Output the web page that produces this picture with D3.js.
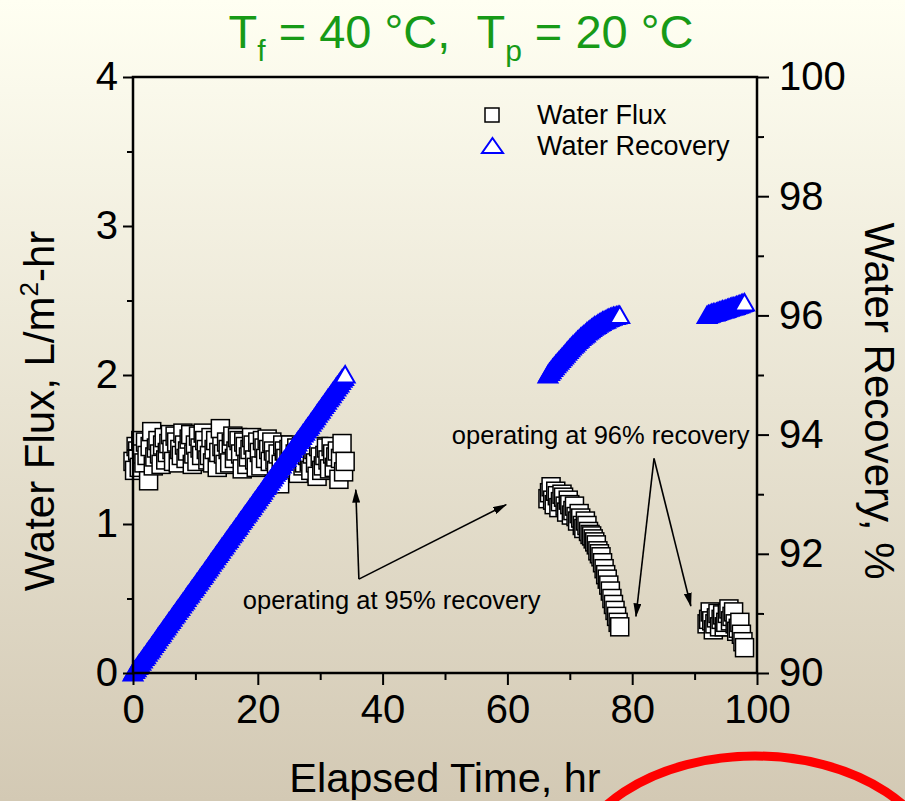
<!DOCTYPE html>
<html>
<head>
<meta charset="utf-8">
<script src="https://cdn.jsdelivr.net/npm/d3@7"></script>
<style>
  html, body { margin: 0; padding: 0; overflow: hidden; }
  #chart text { font-family: "Liberation Sans", Arial, sans-serif; }
</style>
</head>
<body>
<div id="chart"></div>
<script>
// ---- data ----
// run 1 : operating at 95% recovery
const seg1Time = [0, 0.25, 0.5, 0.75, 1, 1.25, 1.5, 1.75, 2, 2.25,
  2.5, 2.75, 3, 3.25, 3.5, 3.75, 4, 4.25, 4.5, 4.75,
  5, 5.25, 5.5, 5.75, 6, 6.25, 6.5, 6.75, 7, 7.25,
  7.5, 7.75, 8, 8.25, 8.5, 8.75, 9, 9.25, 9.5, 9.75,
  10, 10.25, 10.5, 10.75, 11, 11.25, 11.5, 11.75, 12, 12.25,
  12.5, 12.75, 13, 13.25, 13.5, 13.75, 14, 14.25, 14.5, 14.75,
  15, 15.25, 15.5, 15.75, 16, 16.25, 16.5, 16.75, 17, 17.25,
  17.5, 17.75, 18, 18.25, 18.5, 18.75, 19, 19.25, 19.5, 19.75,
  20, 20.25, 20.5, 20.75, 21, 21.25, 21.5, 21.75, 22, 22.25,
  22.5, 22.75, 23, 23.25, 23.5, 23.75, 24, 24.25, 24.5, 24.75,
  25, 25.25, 25.5, 25.75, 26, 26.25, 26.5, 26.75, 27, 27.25,
  27.5, 27.75, 28, 28.25, 28.5, 28.75, 29, 29.25, 29.5, 29.75,
  30, 30.25, 30.5, 30.75, 31, 31.25, 31.5, 31.75, 32, 32.25,
  32.5, 32.75, 33, 33.25, 33.5, 33.75, 34];
const seg1Flux = [1.42, 1.36, 1.52, 1.49, 1.38, 1.56, 1.47, 1.41, 1.55, 1.46,
  1.29, 1.52, 1.62, 1.39, 1.45, 1.51, 1.56, 1.47, 1.40, 1.53,
  1.58, 1.43, 1.48, 1.54, 1.60, 1.50, 1.42, 1.59, 1.55, 1.41,
  1.50, 1.46, 1.61, 1.53, 1.44, 1.49, 1.57, 1.60, 1.40, 1.47,
  1.53, 1.42, 1.59, 1.51, 1.46, 1.61, 1.56, 1.50, 1.43, 1.46,
  1.58, 1.41, 1.50, 1.56, 1.38, 1.48, 1.64, 1.52, 1.47, 1.40,
  1.55, 1.50, 1.41, 1.54, 1.59, 1.44, 1.49, 1.58, 1.56, 1.47,
  1.37, 1.55, 1.52, 1.40, 1.45, 1.50, 1.58, 1.53, 1.43, 1.38,
  1.55, 1.48, 1.39, 1.56, 1.51, 1.44, 1.57, 1.50, 1.42, 1.55,
  1.49, 1.43, 1.36, 1.47, 1.27, 1.40, 1.53, 1.49, 1.44, 1.37,
  1.50, 1.53, 1.38, 1.43, 1.47, 1.51, 1.34, 1.45, 1.52, 1.39,
  1.41, 1.50, 1.46, 1.42, 1.36, 1.47, 1.50, 1.41, 1.32, 1.52,
  1.45, 1.36, 1.39, 1.46, 1.51, 1.43, 1.37, 1.52, 1.47, 1.38,
  1.45, 1.49, 1.30, 1.44, 1.54, 1.35, 1.42];
const seg1Rec = [90.00, 90.04, 90.07, 90.11, 90.15, 90.18, 90.22, 90.26, 90.29, 90.33,
  90.37, 90.40, 90.44, 90.48, 90.51, 90.55, 90.59, 90.63, 90.66, 90.70,
  90.74, 90.77, 90.81, 90.85, 90.88, 90.92, 90.96, 90.99, 91.03, 91.07,
  91.10, 91.14, 91.18, 91.21, 91.25, 91.29, 91.32, 91.36, 91.40, 91.43,
  91.47, 91.51, 91.54, 91.58, 91.62, 91.65, 91.69, 91.73, 91.76, 91.80,
  91.84, 91.88, 91.91, 91.95, 91.99, 92.02, 92.06, 92.10, 92.13, 92.17,
  92.21, 92.24, 92.28, 92.32, 92.35, 92.39, 92.43, 92.46, 92.50, 92.54,
  92.57, 92.61, 92.65, 92.68, 92.72, 92.76, 92.79, 92.83, 92.87, 92.90,
  92.94, 92.98, 93.01, 93.05, 93.09, 93.13, 93.16, 93.20, 93.24, 93.27,
  93.31, 93.35, 93.38, 93.42, 93.46, 93.49, 93.53, 93.57, 93.60, 93.64,
  93.68, 93.71, 93.75, 93.79, 93.82, 93.86, 93.90, 93.93, 93.97, 94.01,
  94.04, 94.08, 94.12, 94.15, 94.19, 94.23, 94.26, 94.30, 94.34, 94.38,
  94.41, 94.45, 94.49, 94.52, 94.56, 94.60, 94.63, 94.67, 94.71, 94.74,
  94.78, 94.82, 94.85, 94.89, 94.93, 94.96, 95.00];

// run 2 : operating at 96% recovery
const seg2Time = [66.5, 66.75, 67, 67.25, 67.5, 67.75, 68, 68.25, 68.5, 68.75,
  69, 69.25, 69.5, 69.75, 70, 70.25, 70.5, 70.75, 71, 71.25,
  71.5, 71.75, 72, 72.25, 72.5, 72.75, 73, 73.25, 73.5, 73.75,
  74, 74.25, 74.5, 74.75, 75, 75.25, 75.5, 75.75, 76, 76.25,
  76.5, 76.75, 77, 77.25, 77.5, 77.75, 78];
const seg2Flux = [1.17, 1.21, 1.25, 1.16, 1.13, 1.22, 1.19, 1.11, 1.15, 1.20,
  1.18, 1.12, 1.08, 1.16, 1.13, 1.06, 1.09, 1.12, 1.05, 1.02,
  1.07, 1.04, 0.99, 0.97, 1.02, 0.99, 0.95, 0.93, 0.92, 0.90,
  0.88, 0.86, 0.82, 0.80, 0.78, 0.74, 0.70, 0.66, 0.63, 0.59,
  0.55, 0.50, 0.46, 0.42, 0.38, 0.34, 0.31];
const seg2Rec = [95.00, 95.04, 95.07, 95.11, 95.14, 95.17, 95.20, 95.23, 95.26, 95.29,
  95.32, 95.35, 95.38, 95.41, 95.44, 95.47, 95.50, 95.52, 95.55, 95.58,
  95.60, 95.63, 95.65, 95.67, 95.69, 95.72, 95.74, 95.76, 95.78, 95.80,
  95.82, 95.83, 95.85, 95.87, 95.88, 95.90, 95.91, 95.92, 95.94, 95.95,
  95.96, 95.97, 95.98, 95.98, 95.99, 96.00, 96.00];

// run 3 : operating at 96% recovery
const seg3Time = [92, 92.25, 92.5, 92.75, 93, 93.25, 93.5, 93.75, 94, 94.25,
  94.5, 94.75, 95, 95.25, 95.5, 95.75, 96, 96.25, 96.5, 96.75,
  97, 97.25, 97.5, 97.75, 98];
const seg3Flux = [0.33, 0.36, 0.41, 0.35, 0.29, 0.33, 0.37, 0.40, 0.31, 0.36,
  0.39, 0.31, 0.34, 0.40, 0.43, 0.35, 0.38, 0.41, 0.33, 0.28,
  0.30, 0.34, 0.26, 0.21, 0.17];
const seg3Rec = [96.00, 96.01, 96.02, 96.03, 96.04, 96.04, 96.05, 96.06, 96.07, 96.08,
  96.09, 96.09, 96.10, 96.11, 96.12, 96.13, 96.14, 96.14, 96.15, 96.16,
  96.17, 96.18, 96.19, 96.20, 96.21];

const xTicks = [0, 20, 40, 60, 80, 100];
const xMinor = [10, 30, 50, 70, 90];
const fluxTicks = [0, 1, 2, 3, 4];
const fluxMinor = [0.5, 1.5, 2.5, 3.5];
const recTicks = [90, 92, 94, 96, 98, 100];
const recMinor = [91, 93, 95, 97, 99];

const segments = [
  { time: seg1Time, flux: seg1Flux, rec: seg1Rec },
  { time: seg2Time, flux: seg2Flux, rec: seg2Rec },
  { time: seg3Time, flux: seg3Flux, rec: seg3Rec }
];

// ---- layout ----
const W = 905, H = 801;
const plot = { left: 133, right: 757, top: 77, bottom: 673 };
const FONT = "'Liberation Sans', Arial, sans-serif";

const svg = d3.select("#chart").append("svg")
  .attr("width", W)
  .attr("height", H);

const defs = svg.append("defs");
const grad = defs.append("linearGradient")
  .attr("id", "bg").attr("x1", 0).attr("y1", 0).attr("x2", 0).attr("y2", 1);
grad.append("stop").attr("offset", "0%").attr("stop-color", "#FFFFF2");
grad.append("stop").attr("offset", "100%").attr("stop-color", "#D3C9B4");

defs.append("marker")
  .attr("id", "arrow")
  .attr("viewBox", "0 0 14 8")
  .attr("refX", 13).attr("refY", 4)
  .attr("markerWidth", 14).attr("markerHeight", 8)
  .attr("markerUnits", "userSpaceOnUse")
  .attr("orient", "auto")
  .append("path")
  .attr("d", "M0,0 L14,4 L0,8 Z")
  .attr("fill", "#000");

svg.append("rect").attr("width", W).attr("height", H).attr("fill", "url(#bg)");

// scales
const x = d3.scaleLinear().domain([0, 100]).range([plot.left, plot.right]);
const yFlux = d3.scaleLinear().domain([0, 4]).range([plot.bottom, plot.top]);
const yRec = d3.scaleLinear().domain([90, 100]).range([plot.bottom, plot.top]);

// Water Flux squares
segments.forEach(seg => {
  svg.append("g").selectAll("rect")
    .data(seg.time.map((t, i) => ({ t, v: seg.flux[i] })))
    .enter().append("rect")
    .attr("x", d => x(d.t) - 9)
    .attr("y", d => yFlux(d.v) - 9)
    .attr("width", 18).attr("height", 18)
    .attr("fill", "#fff")
    .attr("stroke", "#000")
    .attr("stroke-width", 1.5);
});

// Water Recovery triangles (dense points merge into a solid band)
const triPath = "M0,-9 L9.5,7.5 L-9.5,7.5 Z";
segments.forEach(seg => {
  const n = seg.time.length;
  svg.append("g").selectAll("path")
    .data(seg.time.map((t, i) => ({ t, v: seg.rec[i], last: i === n - 1 })))
    .enter().append("path")
    .attr("d", triPath)
    .attr("transform", d => `translate(${x(d.t)},${yRec(d.v)})`)
    .attr("fill", d => d.last ? "#fff" : "#0000ff")
    .attr("stroke", "#0000ff")
    .attr("stroke-width", 2);
});

// axes
function styleAxis(g) {
  g.attr("font-family", FONT).attr("font-size", 40);
  g.selectAll("text").attr("fill", "#000");
  g.selectAll("line").attr("stroke", "#000").attr("stroke-width", 2);
  g.select(".domain").remove();
}

svg.append("g")
  .attr("transform", `translate(0,${plot.bottom})`)
  .call(d3.axisBottom(x).tickValues(xTicks).tickSize(12).tickPadding(10))
  .call(styleAxis);
svg.append("g")
  .attr("transform", `translate(0,${plot.bottom})`)
  .call(d3.axisBottom(x).tickValues(xMinor).tickSize(7).tickFormat(""))
  .call(styleAxis);

svg.append("g")
  .attr("transform", `translate(${plot.left},0)`)
  .call(d3.axisLeft(yFlux).tickValues(fluxTicks).tickSize(10).tickPadding(5).tickFormat(d3.format("d")))
  .call(styleAxis);
svg.append("g")
  .attr("transform", `translate(${plot.left},0)`)
  .call(d3.axisLeft(yFlux).tickValues(fluxMinor).tickSize(6).tickFormat(""))
  .call(styleAxis);

svg.append("g")
  .attr("transform", `translate(${plot.right},0)`)
  .call(d3.axisRight(yRec).tickValues(recTicks).tickSize(12).tickPadding(10).tickFormat(d3.format("d")))
  .call(styleAxis);
svg.append("g")
  .attr("transform", `translate(${plot.right},0)`)
  .call(d3.axisRight(yRec).tickValues(recMinor).tickSize(7).tickFormat(""))
  .call(styleAxis);

// frame
svg.append("rect")
  .attr("x", plot.left).attr("y", plot.top)
  .attr("width", plot.right - plot.left)
  .attr("height", plot.bottom - plot.top)
  .attr("fill", "none")
  .attr("stroke", "#000")
  .attr("stroke-width", 2.5);

// title
const title = svg.append("text")
  .attr("x", 461).attr("y", 48)
  .attr("text-anchor", "middle")
  .attr("font-family", FONT)
  .attr("font-size", 47)
  .attr("fill", "#179A17");
title.append("tspan").text("T");
title.append("tspan").attr("dy", 13).attr("font-size", 30).text("f");
title.append("tspan").attr("dy", -13).text("\u00A0= 40 \u00B0C,\u00A0\u00A0T");
title.append("tspan").attr("dy", 13).attr("font-size", 30).text("p");
title.append("tspan").attr("dy", -13).text("\u00A0= 20 \u00B0C");

// axis titles
const yTitle = svg.append("text")
  .attr("transform", "translate(54,411) rotate(-90)")
  .attr("text-anchor", "middle")
  .attr("font-family", FONT)
  .attr("font-size", 42)
  .attr("fill", "#000");
yTitle.append("tspan").text("Water Flux, L/m");
yTitle.append("tspan").attr("dy", -16).attr("font-size", 26).text("2");
yTitle.append("tspan").attr("dy", 16).text("-hr");

svg.append("text")
  .attr("transform", "translate(865,401) rotate(90)")
  .attr("text-anchor", "middle")
  .attr("font-family", FONT)
  .attr("font-size", 42)
  .attr("fill", "#000")
  .text("Water Recovery, %");

svg.append("text")
  .attr("x", 445).attr("y", 792)
  .attr("text-anchor", "middle")
  .attr("font-family", FONT)
  .attr("font-size", 41.5)
  .attr("fill", "#000")
  .text("Elapsed Time, hr");

// legend
const legend = svg.append("g").attr("font-family", FONT).attr("font-size", 27);
legend.append("rect")
  .attr("x", 485).attr("y", 108).attr("width", 14).attr("height", 14)
  .attr("fill", "#fff").attr("stroke", "#000").attr("stroke-width", 1.5);
legend.append("text").attr("x", 537).attr("y", 124).text("Water Flux");
legend.append("path")
  .attr("d", "M0,-8 L10.5,7 L-10.5,7 Z")
  .attr("transform", "translate(492.5,146)")
  .attr("fill", "#fff").attr("stroke", "#0000ff").attr("stroke-width", 2);
legend.append("text").attr("x", 537).attr("y", 155).text("Water Recovery");

// annotations (placed in data coordinates of the flux axis)
function arrow(t0, f0, t1, f1) {
  svg.append("line")
    .attr("x1", x(t0)).attr("y1", yFlux(f0))
    .attr("x2", x(t1)).attr("y2", yFlux(f1))
    .attr("stroke", "#000").attr("stroke-width", 1.6)
    .attr("marker-end", "url(#arrow)");
}
arrow(36.2, 0.63, 35.7, 1.23);
arrow(36.2, 0.63, 59.8, 1.13);
arrow(83.5, 1.44, 80.6, 0.38);
arrow(83.5, 1.44, 89.4, 0.45);

svg.append("text")
  .attr("x", x(17.6)).attr("y", yFlux(0.43))
  .attr("font-family", FONT).attr("font-size", 25.5).attr("fill", "#000")
  .text("operating at 95% recovery");
svg.append("text")
  .attr("x", x(51.1)).attr("y", yFlux(1.54))
  .attr("font-family", FONT).attr("font-size", 25.5).attr("fill", "#000")
  .text("operating at 96% recovery");

// red highlight ring at the lower right
svg.append("ellipse")
  .attr("cx", 755).attr("cy", 878)
  .attr("rx", 185).attr("ry", 122)
  .attr("fill", "none")
  .attr("stroke", "#ff0000")
  .attr("stroke-width", 9);
</script>
</body>
</html>
